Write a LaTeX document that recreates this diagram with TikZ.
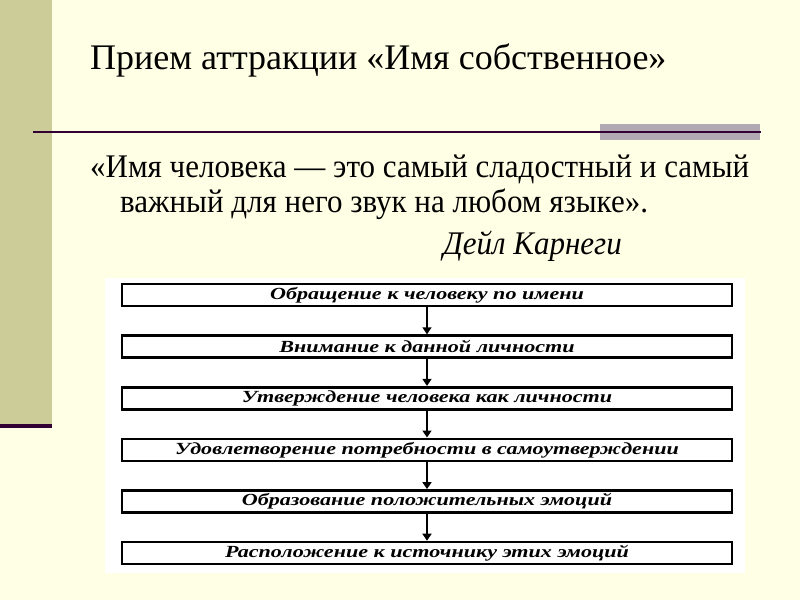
\documentclass[tikz,border=0pt]{standalone}
\usepackage{fontspec}
\setmainfont{Liberation Serif}
\newfontfamily\quotefont[FakeStretch=0.94]{Liberation Serif}
\newfontfamily\boxfont[FakeStretch=1.3]{Liberation Serif}
\usepackage{tikz}
\usetikzlibrary{arrows.meta,positioning,calc}
\definecolor{slidebg}{RGB}{255,255,229}
\definecolor{slidebar}{RGB}{204,204,153}
\definecolor{slideline}{RGB}{51,0,51}
\definecolor{slidegray}{RGB}{178,170,178}

\begin{document}
\begin{tikzpicture}[x=1pt,y=-1pt,
  stepbox/.style={rectangle,draw=black,line width=2.6pt,fill=white,
    minimum width=610pt,minimum height=22pt,inner sep=0pt,
    font=\boxfont\fontsize{17}{17}\selectfont\bfseries\itshape},
  flow/.style={-{Triangle[width=9pt,length=7pt]},line width=1.6pt,black}]
  % slide background and decoration
  \useasboundingbox (0,0) rectangle (800,600);
  \fill[slidebg] (0,0) rectangle (800,600);
  \fill[slidebar] (0,0) rectangle (52,424);
  \fill[slideline] (0,424) rectangle (52,428);
  \fill[slidegray] (600,124) rectangle (760,140);
  \draw[slideline,line width=2.4pt] (33,132) -- (761,132);
  % title and quote
  \node[anchor=base west,inner sep=0pt,font=\fontsize{36}{36}\selectfont] (title) at (90,69) {Прием аттракции «Имя собственное»};
  \node[anchor=base west,inner sep=0pt,font=\quotefont\fontsize{33}{33}\selectfont] (quote1) at (90,177) {«Имя человека — это самый сладостный и самый};
  \node[anchor=base west,inner sep=0pt,font=\quotefont\fontsize{33}{33}\selectfont] (quote2) at (120,212) {важный для него звук на любом языке».};
  \node[anchor=base west,inner sep=0pt,font=\quotefont\fontsize{33}{33}\selectfont\itshape] (author) at (443,254) {Дейл Карнеги};
  % flow chart
  \fill[white] (105,278) rectangle (745,573);
  \foreach \t [count=\i from 0] in {Обращение к человеку по имени,
      Внимание к данной личности,
      Утверждение человека как личности,
      Удовлетворение потребности в самоутверждении,
      Образование положительных эмоций,
      Расположение к источнику этих эмоций} {
    \node[stepbox] (S\i) at (427,295+51.6*\i) {\t};
  }
  \foreach \a/\b in {0/1,1/2,2/3,3/4,4/5} {
    \draw[flow] (S\a) -- (S\b);
  }
\end{tikzpicture}
\end{document}
